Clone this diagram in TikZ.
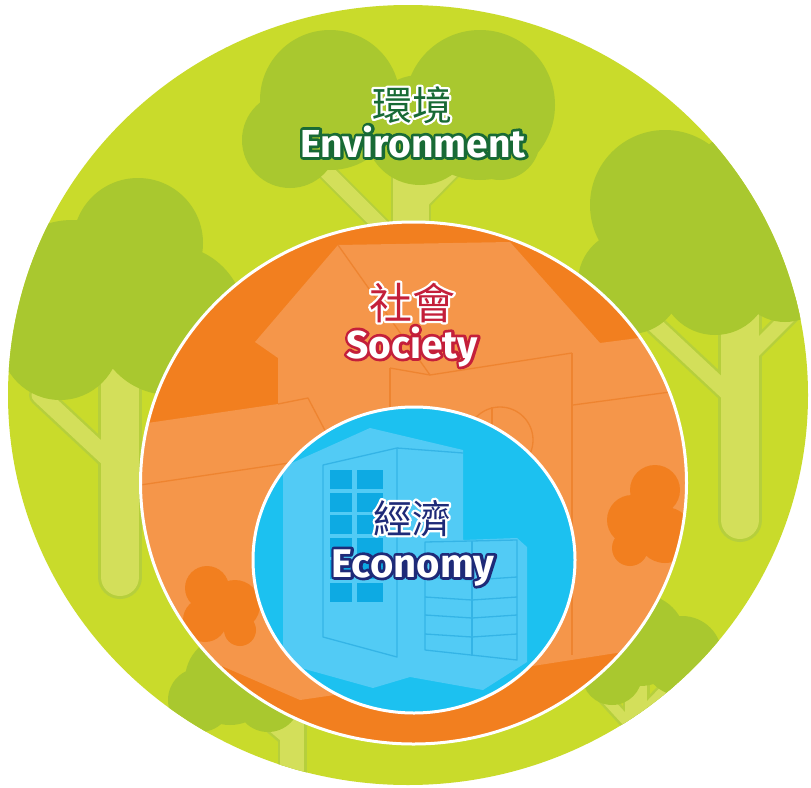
\documentclass[tikz,border=0pt]{standalone}
\usepackage{fontspec}
\setmainfont{Fira Sans}
\newfontfamily\cjk{Noto Sans CJK TC}
\usetikzlibrary{calc}

\definecolor{lime}{HTML}{C9DB2B}
\definecolor{canopy}{HTML}{A9C82F}
\definecolor{trunk}{HTML}{D3DF5A}
\definecolor{trunkline}{HTML}{B6CF3C}
\definecolor{orD}{HTML}{F27F1F}
\definecolor{orL}{HTML}{F5964A}
\definecolor{orLine}{HTML}{EE8430}
\definecolor{blB}{HTML}{1CC1F0}
\definecolor{blL}{HTML}{52CBF5}
\definecolor{blLine}{HTML}{34B4E6}
\definecolor{blWin}{HTML}{0DAAE3}
\definecolor{envG}{HTML}{186A35}
\definecolor{socR}{HTML}{C41F3A}
\definecolor{ecoB}{HTML}{1E2A78}

% outlined text: stroked copy behind, filled copy in front
\newcommand\outlined[4]{%
  \leavevmode\rlap{\color{#2}\special{pdf:literal direct 1 Tr #1 w 1 j 1 J}#4\special{pdf:literal direct 0 Tr}}{\color{#3}#4}}

\tikzset{
  tout/.style={draw=trunkline, line cap=round},
  tin/.style={draw=trunk, line cap=round},
  orln/.style={draw=orLine, line width=1.3pt, line join=round},
  blln/.style={draw=blLine, line width=1.3pt, line join=round},
  enlbl/.style={inner sep=0pt, anchor=base, font=\bfseries\fontsize{39}{42}\selectfont},
  cnlbl/.style={inner sep=0pt, anchor=base, font=\cjk\fontsize{40}{44}\selectfont},
}

\begin{document}
\begin{tikzpicture}[x=1pt,y=-1pt]
\useasboundingbox (0,0) rectangle (811,787);
\fill[white] (0,0) rectangle (811,787);

% ---------- environment layer ----------
\begin{scope}
\clip (408,395) ellipse [x radius=400, y radius=390];
\fill[lime] (0,0) rectangle (811,787);
% trunks (outline pass)
\draw[tout, line width=40] (411,150)--(411,260);
\draw[tout, line width=19] (325,170)--(400,245);
\draw[tout, line width=19] (472,150)--(418,205);
\draw[tout, line width=44] (120,380)--(120,577);
\draw[tout, line width=22] (40,395)--(112,462);
\draw[tout, line width=44] (740,310)--(740,520);
\draw[tout, line width=21] (655,325)--(730,395);
\draw[tout, line width=19] (800,305)--(750,355);
\draw[tout, line width=29] (292,700)--(292,800);
\draw[tout, line width=16] (230,690)--(286,738);
\draw[tout, line width=27] (636,680)--(636,800);
\draw[tout, line width=15] (596,688)--(630,725);
\draw[tout, line width=13] (668,685)--(642,712);
% trunks (fill pass)
\draw[tin, line width=36] (411,150)--(411,260);
\draw[tin, line width=15] (325,170)--(400,245);
\draw[tin, line width=15] (472,150)--(418,205);
\draw[tin, line width=38] (120,380)--(120,577);
\draw[tin, line width=17] (40,395)--(112,462);
\draw[tin, line width=38] (740,310)--(740,520);
\draw[tin, line width=16] (655,325)--(730,395);
\draw[tin, line width=14] (800,305)--(750,355);
\draw[tin, line width=24] (292,700)--(292,800);
\draw[tin, line width=11] (230,690)--(286,738);
\draw[tin, line width=22] (636,680)--(636,800);
\draw[tin, line width=10] (596,688)--(630,725);
\draw[tin, line width=8] (668,685)--(642,712);
% canopies
\fill[canopy] (330,100) circle (70) (480,105) circle (75) (290,140) circle (48)
  (420,130) circle (55) (500,140) circle (40);
\fill[canopy] (138,243) circle (65) (72,300) circle (80) (60,340) circle (60)
  (170,320) circle (75);
\fill[canopy] (665,205) circle (75) (748,190) circle (60) (630,282) circle (52)
  (715,280) circle (55) (785,272) circle (50);
\fill[canopy] (230,680) circle (45) (200,700) circle (32) (268,700) circle (32);
\fill[canopy] (640,640) circle (46) (682,656) circle (40) (612,675) circle (30);
\end{scope}

% ---------- society layer ----------
\begin{scope}
\clip (413.5,483) ellipse [x radius=273, y radius=261];
\fill[orD] (100,200) rectangle (720,760);
\fill[orL] (120,427) -- (278,404) -- (278,358) -- (255,342) -- (338,245)
  -- (510,242) -- (600,343) -- (700,330) -- (700,640) -- (520,668)
  -- (300,700) -- (185,650) -- (120,600) -- cycle;
\draw[orln] (278,404) -- (308,398) -- (330,440);
\draw[orln] (120,488) -- (336,456);
\draw[orln] (338,245) -- (430,375);
\draw[orln] (390,368) -- (430,375) -- (572,353);
\draw[orln] (390,368) -- (390,430);
\draw[orln] (572,353) -- (572,655);
\draw[orln] (573,405) -- (700,388);
\draw[orln] (500,440) circle (33);
\draw[orln] (492,407) -- (492,440);
\fill[orD] (207,588) circle (22) (235,605) circle (25) (205,620) circle (22)
  (240,630) circle (16);
\fill[orD] (655,490) circle (25) (632,520) circle (25) (665,535) circle (28)
  (630,548) circle (18);
\end{scope}
\draw[white, line width=3] (413.5,483) ellipse [x radius=273, y radius=261];

% ---------- economy layer ----------
\begin{scope}
\clip (414,560) ellipse [x radius=161, y radius=153];
\fill[blB] (240,400) rectangle (590,720);
\fill[blL] (283,467) -- (370,428) -- (463,450) -- (463,540) -- (517,538)
  -- (527,547) -- (527,662) -- (483,690) -- (410,677) -- (373,688)
  -- (283,663) -- cycle;
\draw[blln] (323,465) -- (397,448) -- (397,657) -- (323,637) -- cycle;
\draw[blln] (397,448) -- (463,453);
\foreach \r in {0,...,5}{
  \fill[blWin] (330,470+22.5*\r) rectangle (352,489+22.5*\r);
  \fill[blWin] (357,470+22.5*\r) rectangle (383,489+22.5*\r);
}
\fill[blL] (425,542) -- (517,540) -- (517,660) -- (425,650) -- cycle;
\draw[blln] (425,542) -- (517,540) -- (517,660) -- (425,650) -- cycle;
\draw[blln] (472,541) -- (472,656);
\foreach \yy in {577,597,615,634}{
  \draw[blln] (425,\yy) -- (472,\yy+3) -- (517,\yy);
}
\end{scope}
\draw[white, line width=3] (414,560) ellipse [x radius=161, y radius=153];

% ---------- labels ----------
\node[cnlbl] (envcn) at (412,120) {\outlined{4.5}{white}{envG}{環境}};
\node[enlbl] (enven) at (413,157) {\outlined{5.5}{envG}{white}{Environment}};
\node[cnlbl, font=\cjk\fontsize{43}{46}\selectfont] (soccn) at (412,319) {\outlined{4.5}{white}{socR}{社會}};
\node[enlbl] (socen) at (412,358) {\outlined{5.5}{socR}{white}{Society}};
\node[cnlbl, font=\cjk\fontsize{39}{42}\selectfont] (ecocn) at (412,533) {\outlined{4.5}{white}{ecoB}{經濟}};
\node[enlbl, font=\bfseries\fontsize{40}{43}\selectfont] (ecoen) at (413,577) {\outlined{5.5}{ecoB}{white}{Economy}};
\end{tikzpicture}
\end{document}
